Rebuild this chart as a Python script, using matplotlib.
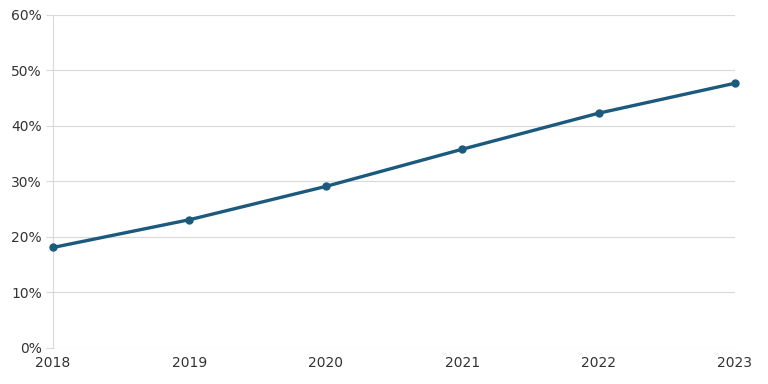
import matplotlib
matplotlib.use("Agg")
import matplotlib.pyplot as plt
from matplotlib.ticker import FuncFormatter

years = [2018, 2019, 2020, 2021, 2022, 2023]
values = [18.1, 23.1, 29.1, 35.8, 42.3, 47.7]
y_ticks = [0, 10, 20, 30, 40, 50, 60]

fig = plt.figure(figsize=(7.68, 3.84), dpi=100)
ax = fig.add_axes([0.069, 0.094, 0.888, 0.867])
ax.plot(years, values, color="#1c5a7d", linewidth=2.4, marker="o", markersize=5, zorder=3, clip_on=False)
ax.set_xlim(2018, 2023)
ax.set_ylim(0, 60)
ax.set_yticks(y_ticks)
ax.set_xticks(years)
ax.yaxis.set_major_formatter(FuncFormatter(lambda v, p: f"{int(v)}%"))
ax.grid(axis="y", color="#d9d9d9", linewidth=0.8)
for s in ["top", "right", "bottom"]:
    ax.spines[s].set_visible(False)
ax.spines["left"].set_color("#d9d9d9")
ax.spines["left"].set_linewidth(0.8)
ax.tick_params(axis="y", length=5, color="#d9d9d9", labelsize=10, labelcolor="#333333", pad=3)
ax.tick_params(axis="x", length=0, labelsize=10, labelcolor="#333333", pad=6)
ax.set_axisbelow(True)
fig.savefig("out.png", dpi=100)
